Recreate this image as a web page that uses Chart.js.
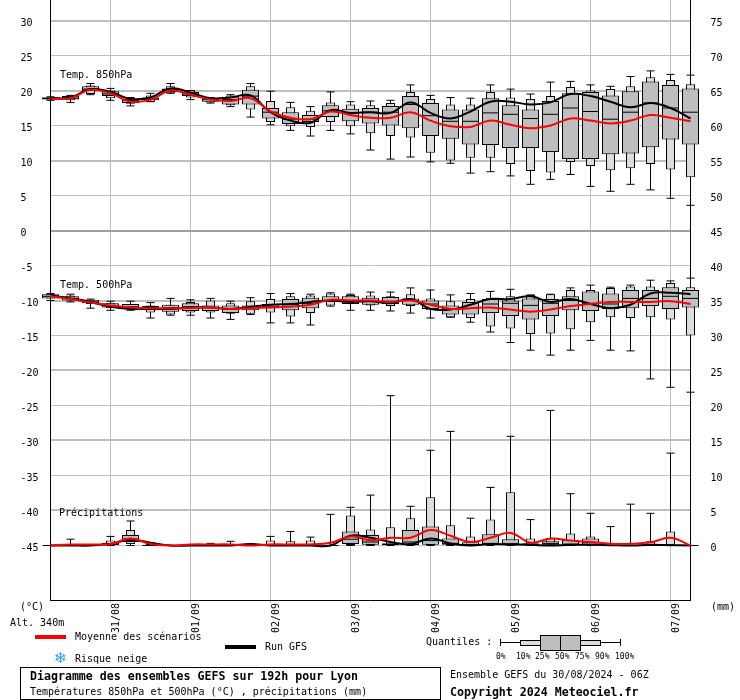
<!DOCTYPE html>
<html lang="fr">
<head>
<meta charset="utf-8">
<title>Diagramme des ensembles GEFS</title>
<script src="https://cdn.jsdelivr.net/npm/chart.js@4/dist/chart.umd.min.js"></script>
<style>
  body { margin: 0; background: #fff; }
  #wrap { position: relative; width: 740px; height: 700px; overflow: hidden; }
  canvas { position: absolute; left: 0; top: 0; }
  .t { position: absolute; white-space: pre; color: #000; font: 10px/12px "DejaVu Sans Mono", monospace; }
  .b { font-weight: bold; font-size: 11.6px; }
  .s { font-size: 8px; line-height: 10px; }
  .r { position: absolute; box-sizing: border-box; }
</style>
</head>
<body>
<div id="wrap">
  <canvas id="chart" width="740" height="700"></canvas>

  <div class="t" style="left:60px;top:69px">Temp. 850hPa</div>
  <div class="t" style="left:60px;top:279px">Temp. 500hPa</div>
  <div class="t" style="left:59px;top:507px">Précipitations</div>

  <div class="t" style="left:20px;top:601px">(°C)</div>
  <div class="t" style="left:10px;top:617px">Alt. 340m</div>
  <div class="t" style="left:711px;top:601px">(mm)</div>

  <div class="r" style="left:35px;top:635px;width:31px;height:4px;background:#f00"></div>
  <div class="t" style="left:75px;top:631px">Moyenne des scénarios</div>
  <div class="r" style="left:225px;top:645px;width:31px;height:4px;background:#000"></div>
  <div class="t" style="left:265px;top:641px">Run GFS</div>
  <div class="t" style="left:54px;top:651px;font:15px/15px 'DejaVu Sans';color:#3b9be0">❄</div>
  <div class="t" style="left:75px;top:653px">Risque neige</div>

  <div class="t" style="left:426px;top:636px">Quantiles :</div>
  <div class="r" style="left:500px;top:642px;width:120px;height:1px;background:#000"></div>
  <div class="r" style="left:500px;top:639px;width:1px;height:7px;background:#000"></div>
  <div class="r" style="left:620px;top:639px;width:1px;height:7px;background:#000"></div>
  <div class="r" style="left:520px;top:640px;width:81px;height:6px;background:#dcdcdc;border:1px solid #000"></div>
  <div class="r" style="left:540px;top:635px;width:41px;height:16px;background:#bebebe;border:1px solid #000"></div>
  <div class="r" style="left:560px;top:635px;width:1px;height:16px;background:#000"></div>
  <div class="t s" style="left:496px;top:652px">0%</div>
  <div class="t s" style="left:516px;top:652px">10%</div>
  <div class="t s" style="left:535px;top:652px">25%</div>
  <div class="t s" style="left:555px;top:652px">50%</div>
  <div class="t s" style="left:575px;top:652px">75%</div>
  <div class="t s" style="left:595px;top:652px">90%</div>
  <div class="t s" style="left:615px;top:652px">100%</div>

  <div class="r" style="left:20px;top:667px;width:421px;height:33px;border:1px solid #000"></div>
  <div class="t b" style="left:30px;top:670px">Diagramme des ensembles GEFS sur 192h pour Lyon</div>
  <div class="t" style="left:30px;top:686px">Températures 850hPa et 500hPa (°C) , précipitations (mm)</div>
  <div class="t" style="left:450px;top:669px">Ensemble GEFS du 30/08/2024 - 06Z</div>
  <div class="t b" style="left:450px;top:686px">Copyright 2024 Meteociel.fr</div>
</div>

<script>
// one label per 6h step, starting 30/08 06Z
const steps = ["","","","31/08","","","","01/09","","","","02/09","","","","03/09","","","","04/09","","","","05/09","","","","06/09","","","","07/09",""];

const tempTicks = [30,25,20,15,10,5,0,-5,-10,-15,-20,-25,-30,-35,-40,-45];
const precipTicks = [75,70,65,60,55,50,45,40,35,30,25,20,15,10,5,0];

// Temp. 850hPa
const t850Min = [18.6,18.3,19.4,18.6,17.8,18.4,19.6,18.7,18.2,17.7,16.2,15.1,14.3,13.5,14.3,13.8,11.5,10.2,10.5,9.8,9.6,8.2,8.4,7.8,6.6,7.3,8.0,6.3,5.6,6.6,5.8,4.6,3.6];
const t850P10 = [18.7,18.6,19.5,18.9,18.1,18.4,19.6,19.0,18.3,17.9,17.3,15.5,14.9,14.8,15.5,14.9,13.9,13.5,13.3,11.1,10.0,10.4,10.4,9.5,8.5,8.3,9.8,9.2,8.6,8.9,9.5,8.7,7.6];
const t850P25 = [18.7,18.7,19.9,19.2,18.2,18.6,19.8,19.2,18.4,18.0,18.0,16.0,15.2,15.5,16.2,15.6,15.3,15.0,14.6,13.5,13.1,12.3,12.2,11.8,11.8,11.2,10.2,10.2,10.9,11.0,11.9,13.0,12.3];
const t850P50 = [18.9,18.9,20.2,19.5,18.6,18.8,20.1,19.5,18.7,18.7,19.2,16.9,15.9,15.9,17.1,16.8,16.9,16.9,18.0,16.4,15.6,15.6,16.8,16.6,16.0,16.6,17.5,17.0,15.9,16.9,18.2,17.5,16.9];
const t850P75 = [19.0,19.2,20.6,19.9,18.8,19.0,20.3,19.8,18.9,19.1,20.1,17.5,16.9,16.5,17.9,17.4,17.5,17.8,19.2,18.2,17.3,17.3,18.9,17.9,17.3,18.5,19.6,19.8,19.3,19.9,21.3,20.8,20.3];
const t850P90 = [19.0,19.3,20.7,20.0,18.9,19.3,20.6,20.0,19.0,19.3,20.6,18.5,17.6,17.1,18.3,18.0,17.9,18.2,19.8,18.8,18.0,18.0,19.8,19.0,18.8,19.2,20.5,20.0,20.2,20.6,21.9,21.5,20.9];
const t850Max = [19.1,19.3,21.0,20.3,19.0,19.6,21.0,20.0,19.0,19.4,21.0,19.9,18.3,17.7,19.8,18.4,18.5,18.6,20.8,19.3,19.0,18.9,20.8,20.2,19.5,21.2,21.3,20.8,20.6,22.0,22.8,22.3,22.2];
const t850Mean = [18.8,18.9,20.1,19.6,18.4,18.7,20.0,19.4,18.7,18.5,18.9,17.0,16.1,15.9,17.0,16.5,16.1,16.1,16.9,15.7,14.9,14.8,15.7,15.1,14.6,15.0,16.0,15.7,15.3,15.7,16.5,16.1,15.6];
const t850Gfs = [18.9,19.0,20.2,19.8,18.8,19.0,20.3,19.7,18.9,19.0,19.3,16.9,15.7,15.4,17.2,16.8,16.9,16.8,18.3,16.8,16.0,17.0,18.4,18.4,18.0,18.3,19.5,19.2,18.4,17.6,18.2,17.5,16.0];

// Temp. 500hPa
const t500Min = [-10.0,-10.2,-11.1,-11.4,-11.4,-12.5,-12.1,-12.1,-12.5,-12.7,-12.0,-13.2,-13.2,-13.5,-10.8,-11.4,-11.4,-11.5,-11.8,-12.5,-12.4,-13.1,-14.5,-16.0,-17.1,-17.8,-17.1,-15.7,-17.1,-17.2,-21.2,-22.4,-23.1];
const t500P10 = [-9.7,-10.0,-10.5,-11.1,-11.3,-11.7,-12.0,-11.7,-11.7,-11.9,-11.9,-11.7,-12.3,-11.8,-10.7,-10.5,-10.7,-10.8,-10.8,-11.4,-12.4,-12.5,-13.7,-14.0,-14.8,-14.7,-14.1,-13.1,-12.4,-12.5,-12.4,-12.7,-15.0];
const t500P25 = [-9.7,-10.0,-10.4,-11.0,-11.2,-11.4,-11.6,-11.5,-11.5,-11.8,-11.4,-11.1,-11.4,-11.1,-10.2,-10.5,-10.6,-10.5,-10.6,-11.2,-12.0,-12.0,-11.8,-12.2,-12.7,-12.2,-11.4,-11.5,-11.2,-11.1,-10.8,-11.2,-11.0];
const t500P50 = [-9.4,-9.7,-10.2,-10.7,-10.9,-11.0,-11.0,-10.9,-11.0,-11.2,-11.0,-10.9,-10.6,-10.4,-10.0,-10.1,-10.1,-10.1,-10.0,-10.5,-11.2,-11.1,-10.5,-10.4,-10.7,-10.4,-10.0,-10.4,-10.5,-9.7,-9.7,-9.4,-9.7];
const t500P75 = [-9.1,-9.4,-9.9,-10.4,-10.5,-10.8,-10.6,-10.4,-10.7,-10.7,-10.7,-10.5,-9.8,-9.6,-9.4,-9.4,-9.6,-9.5,-9.7,-10.0,-10.7,-10.2,-9.8,-10.0,-9.7,-9.8,-9.4,-8.7,-9.0,-8.5,-8.5,-8.1,-8.5];
const t500P90 = [-9.1,-9.3,-9.9,-10.4,-10.5,-10.7,-10.6,-10.2,-10.0,-10.4,-10.1,-9.8,-9.4,-9.3,-9.0,-9.2,-9.3,-9.4,-9.1,-9.7,-10.1,-9.8,-9.6,-9.4,-9.2,-9.1,-8.5,-8.5,-8.2,-8.0,-8.0,-7.5,-8.1];
const t500Max = [-9.0,-9.1,-9.8,-10.1,-10.1,-10.3,-9.7,-9.9,-9.7,-10.1,-9.6,-9.0,-9.0,-9.1,-8.9,-9.1,-8.8,-8.8,-8.2,-8.5,-9.2,-9.0,-8.7,-8.4,-9.2,-9.1,-8.2,-7.8,-8.1,-7.8,-7.1,-7.2,-6.8];
const t500Mean = [-9.4,-9.8,-10.3,-10.7,-11.0,-11.1,-11.1,-11.1,-11.0,-11.2,-11.1,-11.0,-10.9,-10.6,-9.9,-10.0,-10.0,-10.2,-10.0,-10.6,-11.2,-11.1,-11.0,-11.3,-11.6,-11.3,-10.8,-10.5,-10.2,-10.2,-10.2,-10.1,-10.5];
const t500Gfs = [-9.3,-9.7,-10.2,-10.9,-11.2,-11.2,-11.2,-11.0,-11.0,-11.2,-10.9,-10.6,-10.5,-10.2,-10.0,-10.2,-10.1,-10.4,-9.8,-11.2,-11.3,-10.6,-9.8,-9.8,-9.4,-10.2,-9.8,-10.5,-11.1,-10.6,-9.0,-8.9,-9.1];

// Précipitations (mm)
const rainMin = [0,0,0,0,0,0,0,0,0,0,0,0,0,0,0,0,0,0,0,0,0,0,0,0,0,0,0,0,0,0,0,0,0];
const rainP10 = [0,0,0,0,0.2,0,0,0,0,0,0,0,0,0,0,0,0,0,0,0,0,0,0,0,0,0,0,0,0,0,0,0,0];
const rainP25 = [0,0,0,0,0.5,0,0,0,0,0,0,0,0,0,0,0.2,0.1,0,0,0.1,0.1,0,0.1,0.1,0.05,0.05,0.05,0.1,0,0,0,0,0];
const rainP50 = [0,0,0,0.2,0.9,0,0,0,0,0,0,0,0,0,0,0.9,0.5,0.2,0.5,0.7,0.3,0.1,0.3,0.25,0.2,0.3,0.2,0.4,0,0,0,0,0];
const rainP75 = [0,0,0,0.4,1.5,0.1,0,0,0,0,0,0.1,0.1,0.1,0.05,2.0,1.5,0.3,2.2,2.7,1.0,0.45,1.6,0.9,0.3,0.6,0.8,1.0,0,0,0.1,0.1,0];
const rainP90 = [0,0.2,0,0.7,2.2,0.2,0,0,0.1,0.1,0,0.7,0.6,0.7,0.1,4.3,2.3,2.6,3.9,6.9,2.9,1.3,3.7,7.6,1.0,1.0,1.7,1.3,0.05,0.05,0.6,2.0,0];
const rainMax = [0,0.9,0,1.3,3.5,0.4,0,0,0.3,0.6,0.2,1.3,2.0,1.2,4.45,5.45,7.2,21.4,5.6,13.6,16.3,3.9,8.3,15.6,3.7,19.3,7.4,4.6,2.7,5.9,4.6,13.2,0];
const rainMean = [0,0.15,0.15,0.2,1.0,0.2,0,0.15,0.15,0.15,0,0.15,0.15,0.15,0.4,1.3,0.75,1.1,1.1,2.2,1.4,0.5,1.1,1.8,0.4,1.0,0.7,0.5,0.25,0.25,0.45,1.1,0];
const rainGfs = [0,0,0,0.25,0.8,0.4,0,0,0,0,0.2,0,0,0,0,1.4,1.1,0.5,0.2,1.0,0.3,0,0.2,0.15,0.1,0,0.1,0.1,0.05,0,0.1,0.05,0];

const BOX_GREY = "#bebebe";
const TAIL_GREY = "#dcdcdc";
const GRID_GREY = "#bebebe";

const pair = (low, high) => low.map((v, i) => [v, high[i]]);

function boxDatasets(axis, min, p10, p25, p50, p75, p90, max, mean, gfs) {
  const bar = (data, width, fill, border, order) => ({
    type: "bar", yAxisID: axis, data, grouped: false, clip: false, order,
    barThickness: width, backgroundColor: fill, borderColor: "#000",
    borderWidth: border, borderSkipped: false, inflateAmount: 0
  });
  const dash = (data, radius, order) => ({
    type: "line", yAxisID: axis, data, showLine: false, clip: false, order,
    pointStyle: "line", pointRadius: radius, pointBorderColor: "#000", pointBorderWidth: 1
  });
  const curve = (data, color, order) => ({
    type: "line", yAxisID: axis, data, clip: false, order, tension: 0.4,
    borderColor: color, borderWidth: 2, pointRadius: 0
  });
  return [
    bar(pair(min, max), 1, "#000", 0, 60),
    dash(min, 4, 55),
    dash(max, 4, 55),
    bar(pair(p10, p90), 9, TAIL_GREY, 1, 50),
    bar(pair(p25, p75), 17, BOX_GREY, 1, 40),
    dash(p50, 8, 30),
    curve(gfs, "#000", 20),
    curve(mean, "#f00", 10)
  ];
}

Chart.defaults.font.family = "'DejaVu Sans Mono', monospace";
Chart.defaults.font.size = 10;
Chart.defaults.color = "#000";

const noScalePadding = s => {
  s.paddingTop = 0; s.paddingBottom = 0; s.paddingLeft = 0; s.paddingRight = 0;
};
// blank first line pushes the number a little below its gridline, as in the original
const lowLabel = v => ["", String(v)];

new Chart(document.getElementById("chart"), {
  type: "bar",
  data: {
    labels: steps,
    datasets: [
      ...boxDatasets("y", t850Min, t850P10, t850P25, t850P50, t850P75, t850P90, t850Max, t850Mean, t850Gfs),
      ...boxDatasets("y", t500Min, t500P10, t500P25, t500P50, t500P75, t500P90, t500Max, t500Mean, t500Gfs),
      ...boxDatasets("y2", rainMin, rainP10, rainP25, rainP50, rainP75, rainP90, rainMax, rainMean, rainGfs)
    ]
  },
  options: {
    responsive: false,
    animation: false,
    layout: { autoPadding: false, padding: { left: 20.5, right: 0, top: 0, bottom: 0 } },
    plugins: { legend: { display: false }, tooltip: { enabled: false } },
    scales: {
      x: {
        offset: false,
        border: { color: "#000", width: 1 },
        grid: {
          offset: false,
          color: GRID_GREY,
          lineWidth: c => (c.tick && c.tick.label ? 1 : 0),
          tickLength: 3
        },
        ticks: { autoSkip: false, minRotation: 90, maxRotation: 90, padding: 0, labelOffset: 6 },
        afterFit: s => { s.height = 100; noScalePadding(s); }
      },
      y: {
        position: "left",
        min: -52.786,
        max: 32.929,
        afterBuildTicks: s => { s.ticks = tempTicks.map(value => ({ value })); },
        border: { color: "#000", width: 1 },
        grid: {
          color: c => (c.tick.value === 0 ? "#a0a0a0" : GRID_GREY),
          lineWidth: c => (c.tick.value % 10 === 0 ? 2 : 1),
          drawTicks: false
        },
        ticks: { crossAlign: "far", padding: 4, font: { lineHeight: 0.6 }, callback: lowLabel },
        afterFit: s => { s.width = 30; noScalePadding(s); }
      },
      y2: {
        position: "right",
        min: -7.786,
        max: 77.929,
        afterBuildTicks: s => { s.ticks = precipTicks.map(value => ({ value })); },
        border: { color: "#000", width: 1 },
        grid: { display: true, drawOnChartArea: false, drawTicks: false },
        ticks: { padding: 20, font: { lineHeight: 0.6 }, callback: lowLabel },
        afterFit: s => { s.width = 49.5; noScalePadding(s); }
      }
    }
  }
});
</script>
</body>
</html>
